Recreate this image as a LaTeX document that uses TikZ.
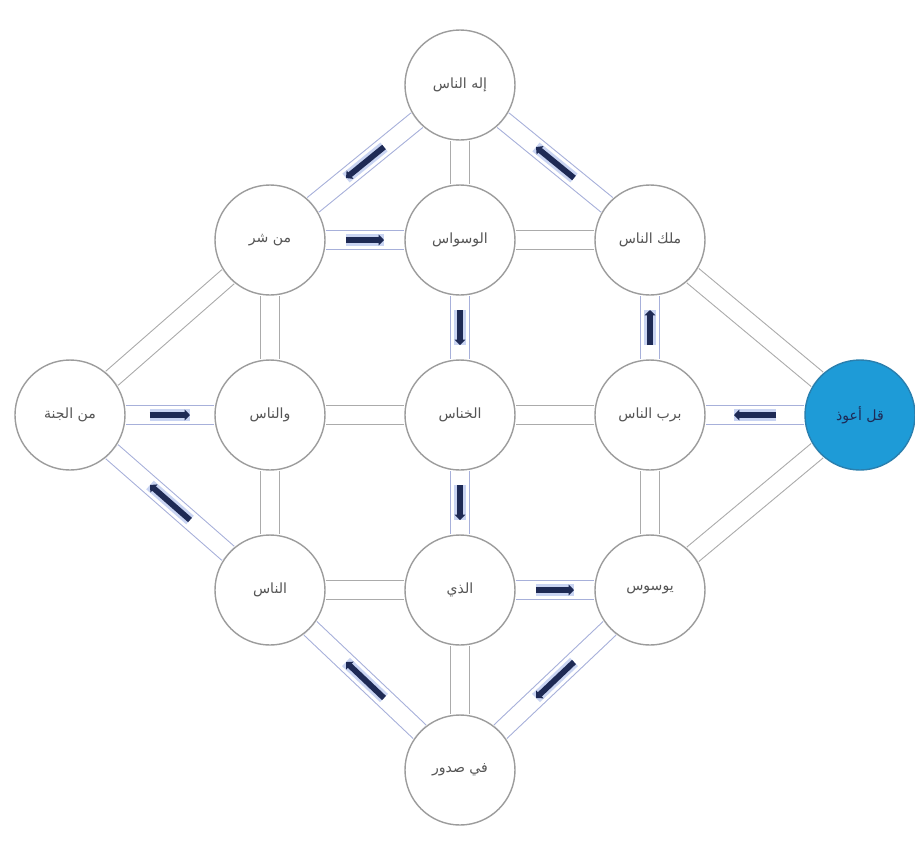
\documentclass[tikz,border=0pt]{standalone}
\usepackage{fontspec}
\usepackage{xcolor}
\usepackage{tikz}
\usetikzlibrary{calc}
\usetikzlibrary{positioning, backgrounds, arrows.meta}

\newfontfamily\arabicfont[Script=Arabic]{DejaVu Sans}
\TeXXeTstate=1
\newcommand{\ayah}[1]{\arabicfont\beginR #1\endR}

\definecolor{ringgray}{HTML}{9C9C9C}
\definecolor{labelgray}{HTML}{555555}
\definecolor{hotedge}{HTML}{A7B0DA}
\definecolor{navy}{HTML}{1E2A55}
\definecolor{halo}{HTML}{C9D4F2}
\definecolor{startblue}{HTML}{1E9BD7}
\definecolor{startedge}{HTML}{2A7FAE}

\begin{document}
\begin{tikzpicture}[-,auto,node distance=3.5cm and 3.8cm,on grid,
                    main node/.style={circle,draw=ringgray,fill=white,line width=0.8pt,minimum size=2.2cm,inner sep=0pt,font=\footnotesize,text=labelgray},
                    start node/.style={main node,draw=startedge,fill=startblue,text=navy},
                    link/.style={draw=ringgray!85,line width=0.6pt,double=white,double distance=10pt},
                    hot link/.style={link,draw=hotedge},
                    flow/.style={draw=navy,line width=3.3pt,-{Triangle[length=3pt,width=6pt]},preaction={draw=halo,line width=6.5pt,-}}]

  \useasboundingbox (-9.2,-8.6) rectangle (9.1,8.3);

  \node[main node] (7) {\ayah{الخناس}};
  \node[main node] (13) [left=of 7] {\ayah{والناس}};
  \node[main node] (12) [left=4cm of 13] {\ayah{من الجنة}};
  \node[main node] (2) [right=of 7] {\ayah{برب الناس}};
  \node[start node] (1) [right=4.2cm of 2] {\ayah{قل أعوذ}};
  \node[main node] (6) [above=of 7] {\ayah{الوسواس}};
  \node[main node] (5) [left=of 6] {\ayah{من شر}};
  \node[main node] (3) [right=of 6] {\ayah{ملك الناس}};
  \node[main node] (4) [above=3.1cm of 6] {\ayah{إله الناس}};
  \node[main node] (8) [below=of 7] {\ayah{الذي}};
  \node[main node] (11) [left=of 8] {\ayah{الناس}};
  \node[main node] (9) [right=of 8] {\ayah{يوسوس}};
  \node[main node] (10) [below=3.6cm of 8] {\ayah{في صدور}};

  \begin{scope}[on background layer]
  \path[every edge/.style={link}]
  (4) edge (6)
  (3) edge (6)
  (3) edge (1)
  (1) edge (9)
  (2) edge (9)
  (2) edge (7)
  (7) edge (13)
  (13) edge (5)
  (13) edge (11)
  (5) edge (12)
  (11) edge (8)
  (8) edge (10);

  \path[every edge/.style={hot link}]
  (1) edge (2)
  (2) edge (3)
  (3) edge (4)
  (4) edge (5)
  (5) edge (6)
  (6) edge (7)
  (7) edge (8)
  (8) edge (9)
  (9) edge (10)
  (10) edge (11)
  (11) edge (12)
  (12) edge (13);
  \end{scope}

  % reading order
  \draw[flow] ($(1)!0.4!(2)$) -- ($(1)!0.6!(2)$);
  \draw[flow] ($(2)!0.4!(3)$) -- ($(2)!0.6!(3)$);
  \draw[flow] ($(3)!0.4!(4)$) -- ($(3)!0.6!(4)$);
  \draw[flow] ($(4)!0.4!(5)$) -- ($(4)!0.6!(5)$);
  \draw[flow] ($(5)!0.4!(6)$) -- ($(5)!0.6!(6)$);
  \draw[flow] ($(6)!0.4!(7)$) -- ($(6)!0.6!(7)$);
  \draw[flow] ($(7)!0.4!(8)$) -- ($(7)!0.6!(8)$);
  \draw[flow] ($(8)!0.4!(9)$) -- ($(8)!0.6!(9)$);
  \draw[flow] ($(9)!0.4!(10)$) -- ($(9)!0.6!(10)$);
  \draw[flow] ($(10)!0.4!(11)$) -- ($(10)!0.6!(11)$);
  \draw[flow] ($(11)!0.4!(12)$) -- ($(11)!0.6!(12)$);
  \draw[flow] ($(12)!0.4!(13)$) -- ($(12)!0.6!(13)$);

\end{tikzpicture}
\end{document}
